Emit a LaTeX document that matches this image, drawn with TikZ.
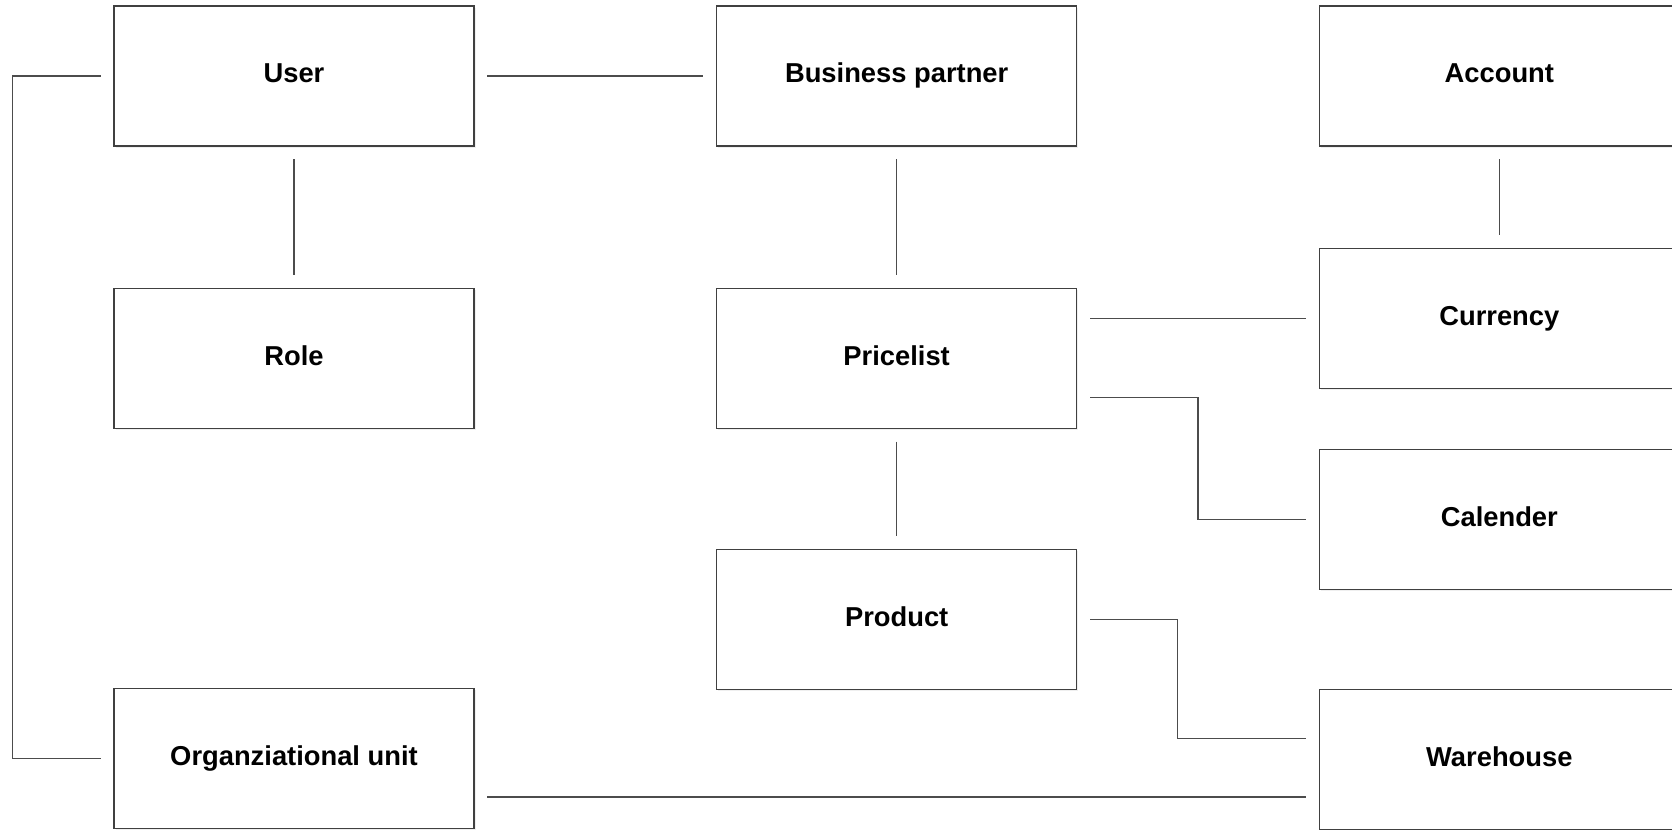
\documentclass[tikz,border=0pt]{standalone}
\usepackage{fontspec}
\setmainfont{Liberation Sans}
\usepackage{tikz}
\usetikzlibrary{positioning,calc,shadows}

\begin{document}
\begin{tikzpicture}[x=0.75pt, y=0.75pt,
entitybox/.style={rectangle, draw=black!75, line width=1pt, fill=white,
  minimum width=270pt, minimum height=105pt,
  text height=14.5pt, text depth=4pt,
  font=\fontsize{20.5}{24}\selectfont\bfseries,
  drop shadow={shadow xshift=1.3pt, shadow yshift=-1.3pt, fill=black!12}},
link/.style={draw=black!70, line width=0.8pt, shorten <=9.5pt, shorten >=9.5pt}
]
    \useasboundingbox (0,0) rectangle (1672,829);

    %Nodes
    \node[entitybox] (user) at (294,753) {User};
    \node[entitybox] (bp)   [right=181pt of user]   {Business partner};
    \node[entitybox] (acc)  [right=181pt of bp]     {Account};
    \node[entitybox] (role) [below=105.75pt of user] {Role};
    \node[entitybox] (pl)   [below=105.75pt of bp]   {Pricelist};
    \node[entitybox] (cur)  [below=75.75pt of acc]   {Currency};
    \node[entitybox] (cal)  [below=45pt of cur]      {Calender};
    \node[entitybox] (prod) [below=90pt of pl]       {Product};
    \node[entitybox] (org)  [below=194pt of role]    {Organziational unit};
    \node[entitybox] (wh)   [below=74pt of cal]      {Warehouse};

    %Lines
    \draw[link] (user.east) -- (bp.west);
    \draw[link] (user.south) -- (role.north);
    \draw[link] (bp.south) -- (pl.north);
    \draw[link] (acc.south) -- (cur.north);
    \draw[link] (pl.south) -- (prod.north);
    \draw[link] (pl.east |- cur.west) -- (cur.west);
    \draw[link] ([yshift=-29.6pt]pl.east) -| ($(pl.east)!.5!(cal.west)$) |- (cal.west);
    \draw[link] (prod.east) -- ++(100,0) |- ([yshift=15.75pt]wh.west);
    \draw[link] ([yshift=-29pt]org.east) -- ([yshift=-29pt]org.east -| wh.west);
    \draw[link] (user.west) -- ++(-101,0) |- (org.west);
\end{tikzpicture}
\end{document}
